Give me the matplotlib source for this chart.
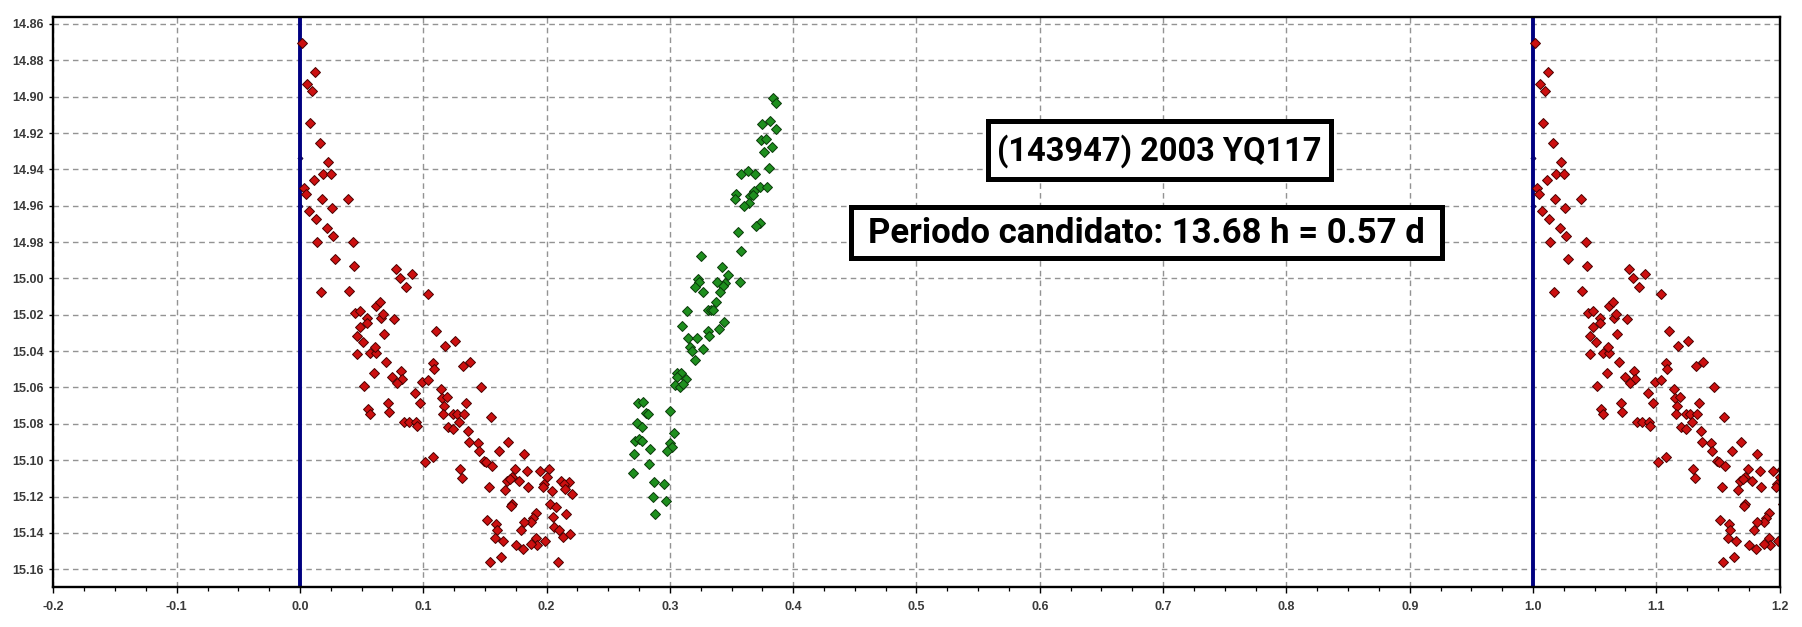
import numpy as np
import matplotlib
matplotlib.use("Agg")
import matplotlib.pyplot as plt
from matplotlib.patches import Rectangle
from matplotlib.ticker import MultipleLocator, FixedLocator, FixedFormatter

# ---------------- data ----------------
red_phase = [0.002, 0.012, 0.006, 0.010, 0.008, 0.016, 0.023, 0.019, 0.025, 0.011,
             0.003, 0.005, 0.018, 0.039, 0.026, 0.007, 0.013, 0.022, 0.027, 0.014,
             0.043, 0.028, 0.044, 0.017, 0.040, 0.078, 0.081, 0.091, 0.086, 0.104,
             0.045, 0.049, 0.054, 0.054, 0.049, 0.062, 0.065, 0.066, 0.067, 0.076,
             0.046, 0.051, 0.068, 0.110, 0.118, 0.046, 0.057, 0.062, 0.061, 0.070,
             0.108, 0.109, 0.060, 0.082, 0.075, 0.083, 0.079, 0.099, 0.104, 0.052,
             0.114, 0.093, 0.115, 0.119, 0.071, 0.097, 0.117, 0.055, 0.072, 0.057,
             0.116, 0.084, 0.088, 0.094, 0.095, 0.120, 0.101, 0.108, 0.126, 0.138,
             0.132, 0.147, 0.135, 0.124, 0.127, 0.133, 0.155, 0.129, 0.124, 0.136,
             0.137, 0.144, 0.145, 0.169, 0.161, 0.182, 0.149, 0.151, 0.156, 0.130,
             0.131, 0.174, 0.184, 0.195, 0.202, 0.172, 0.168, 0.170, 0.178, 0.200,
             0.198, 0.197, 0.212, 0.218, 0.214, 0.215, 0.221, 0.153, 0.166, 0.185,
             0.204, 0.172, 0.171, 0.203, 0.208, 0.191, 0.189, 0.187, 0.182, 0.205,
             0.216, 0.152, 0.159, 0.160, 0.179, 0.206, 0.210, 0.213, 0.219, 0.158,
             0.165, 0.191, 0.192, 0.187, 0.199, 0.175, 0.181, 0.163, 0.154, 0.209]
red_mag = [14.8706, 14.8864, 14.8932, 14.8969, 14.9146, 14.9256, 14.9360, 14.9427, 14.9427, 14.9457,
           14.9500, 14.9537, 14.9565, 14.9565, 14.9614, 14.9627, 14.9675, 14.9720, 14.9765, 14.9800,
           14.9800, 14.9895, 14.9930, 15.0075, 15.0067, 14.9950, 15.0000, 14.9977, 15.0047, 15.0087,
           15.0190, 15.0178, 15.0220, 15.0247, 15.0267, 15.0150, 15.0130, 15.0218, 15.0197, 15.0225,
           15.0317, 15.0350, 15.0307, 15.0288, 15.0370, 15.0417, 15.0412, 15.0412, 15.0378, 15.0460,
           15.0464, 15.0500, 15.0520, 15.0508, 15.0542, 15.0555, 15.0577, 15.0570, 15.0557, 15.0590,
           15.0610, 15.0632, 15.0660, 15.0650, 15.0687, 15.0687, 15.0700, 15.0720, 15.0733, 15.0748,
           15.0748, 15.0788, 15.0788, 15.0788, 15.0810, 15.0816, 15.1012, 15.0984, 15.0347, 15.0460,
           15.0480, 15.0595, 15.0687, 15.0746, 15.0746, 15.0746, 15.0760, 15.0789, 15.0830, 15.0839,
           15.0900, 15.0907, 15.0948, 15.0900, 15.0948, 15.0966, 15.1003, 15.1010, 15.1030, 15.1050,
           15.1100, 15.1050, 15.1058, 15.1058, 15.1050, 15.1094, 15.1113, 15.1105, 15.1113, 15.1094,
           15.1130, 15.1150, 15.1116, 15.1118, 15.1130, 15.1160, 15.1188, 15.1148, 15.1166, 15.1148,
           15.1168, 15.1243, 15.1252, 15.1243, 15.1258, 15.1289, 15.1320, 15.1340, 15.1340, 15.1313,
           15.1298, 15.1331, 15.1353, 15.1386, 15.1386, 15.1369, 15.1384, 15.1421, 15.1407, 15.1428,
           15.1443, 15.1426, 15.1465, 15.1463, 15.1443, 15.1468, 15.1490, 15.1531, 15.1560, 15.1560]

green_phase = [0.384, 0.386, 0.375, 0.381, 0.386, 0.374, 0.378, 0.376, 0.383, 0.380,
               0.358, 0.363, 0.369, 0.373, 0.379, 0.368, 0.365, 0.367, 0.354, 0.353,
               0.364, 0.360, 0.373, 0.370, 0.355, 0.358, 0.325, 0.342, 0.347, 0.345,
               0.343, 0.357, 0.323, 0.324, 0.338, 0.320, 0.327, 0.341, 0.337, 0.331,
               0.333, 0.335, 0.314, 0.310, 0.344, 0.340, 0.331, 0.332, 0.315, 0.322,
               0.327, 0.316, 0.318, 0.320, 0.306, 0.309, 0.306, 0.313, 0.304, 0.308,
               0.311, 0.274, 0.278, 0.281, 0.282, 0.300, 0.273, 0.277, 0.303, 0.272,
               0.275, 0.277, 0.300, 0.302, 0.298, 0.284, 0.271, 0.283, 0.270, 0.287,
               0.295, 0.286, 0.297, 0.288]
green_mag = [14.9005, 14.9036, 14.9152, 14.9132, 14.9176, 14.9240, 14.9234, 14.9303, 14.9277, 14.9392,
             14.9427, 14.9407, 14.9427, 14.9495, 14.9495, 14.9517, 14.9546, 14.9540, 14.9537, 14.9565,
             14.9587, 14.9600, 14.9693, 14.9710, 14.9744, 14.9847, 14.9875, 14.9937, 14.9983, 15.0027,
             15.0042, 15.0018, 15.0005, 15.0020, 15.0018, 15.0046, 15.0074, 15.0075, 15.0128, 15.0173,
             15.0173, 15.0172, 15.0178, 15.0260, 15.0240, 15.0280, 15.0288, 15.0317, 15.0330, 15.0330,
             15.0388, 15.0380, 15.0400, 15.0447, 15.0522, 15.0522, 15.0540, 15.0555, 15.0588, 15.0600,
             15.0581, 15.0687, 15.0680, 15.0739, 15.0746, 15.0728, 15.0794, 15.0817, 15.0849, 15.0896,
             15.0882, 15.0895, 15.0907, 15.0925, 15.0948, 15.0940, 15.0966, 15.1023, 15.1072, 15.1120,
             15.1133, 15.1200, 15.1222, 15.1296]

navy_phase = [0.0, 0.0]
navy_mag = [14.9336, 14.9600]

period_lines = [0.0, 1.0]

x_ticks = [-0.2, -0.1, 0.0, 0.1, 0.2, 0.3, 0.4, 0.5, 0.6, 0.7, 0.8, 0.9, 1.0, 1.1, 1.2]
x_labels = ["-0.2", "-0.1", "0.0", "0.1", "0.2", "0.3", "0.4", "0.5", "0.6", "0.7",
            "0.8", "0.9", "1.0", "1.1", "1.2"]
y_ticks = [14.86, 14.88, 14.90, 14.92, 14.94, 14.96, 14.98, 15.00, 15.02, 15.04,
           15.06, 15.08, 15.10, 15.12, 15.14, 15.16]
y_labels = ["%.2f" % v for v in y_ticks]

title1 = "(143947) 2003 YQ117"
title2 = "Periodo candidato: 13.68 h = 0.57 d"

# ---------------- figure ----------------
W, H = 1802, 627
fig = plt.figure(figsize=(W / 100, H / 100), dpi=100)
fig.patch.set_facecolor("white")

ax_l, ax_r, ax_t, ax_b = 53.4, 1779.6, 16.7, 587.4
ax = fig.add_axes([ax_l / W, 1 - ax_b / H, (ax_r - ax_l) / W, (ax_b - ax_t) / H])
ax.set_xlim(-0.2, 1.2)
ax.set_ylim(15.17, 14.856)

ax.xaxis.set_major_locator(FixedLocator(x_ticks))
ax.xaxis.set_major_formatter(FixedFormatter(x_labels))
ax.xaxis.set_minor_locator(MultipleLocator(0.025))
ax.yaxis.set_major_locator(FixedLocator(y_ticks))
ax.yaxis.set_major_formatter(FixedFormatter(y_labels))

for lab in ax.get_xticklabels() + ax.get_yticklabels():
    lab.set_fontfamily("Liberation Sans")
    lab.set_fontsize(9)
    lab.set_fontweight("bold")
    lab.set_color("#3a3a3a")

ax.tick_params(axis="x", which="major", direction="out", length=4, width=1.0, pad=5.5)
ax.tick_params(axis="x", which="minor", direction="out", length=3, width=0.9)
ax.tick_params(axis="y", which="major", direction="out", length=3, width=1.0, pad=3.9)

for s in ax.spines.values():
    s.set_linewidth(1.7)
    s.set_color("black")
    s.set_zorder(6)

ax.grid(True, which="major", linestyle=(0, (4, 3)), color="#939393", linewidth=1.0, zorder=0)
ax.set_axisbelow(True)

for xv in period_lines:
    ax.axvline(xv, color="#000080", linewidth=2.8, zorder=3)

rp = np.array(red_phase)
rm = np.array(red_mag)
gp = np.array(green_phase)
gm = np.array(green_mag)

for off in (0.0, 1.0):
    ax.plot(np.array(navy_phase) + off, navy_mag, linestyle="none", marker="D",
            markersize=2.6, markerfacecolor="#30104a", markeredgecolor="#1a0a40",
            markeredgewidth=0.6, zorder=2.5)
    ax.plot(rp + off, rm, linestyle="none", marker="D", markersize=4.6,
            markerfacecolor="#cc1010", markeredgecolor="#4a0000",
            markeredgewidth=0.7, zorder=4)
    ax.plot(gp + off, gm, linestyle="none", marker="D", markersize=4.6,
            markerfacecolor="#1e8f1e", markeredgecolor="#0a3a0a",
            markeredgewidth=0.7, zorder=4)

# ---------------- title boxes ----------------
boxes = [((985, 119, 1333, 181), title1, 23.5), ((848, 205, 1444, 261), title2, 25.0)]
for (x0, y0, x1, y1), txt, fs in boxes:
    bw = 5.0
    rect = Rectangle(((x0 + bw / 2) / W, 1 - (y1 - bw / 2) / H),
                     (x1 - x0 - bw) / W, (y1 - y0 - bw) / H,
                     transform=fig.transFigure, facecolor="white", edgecolor="black",
                     linewidth=bw * 72 / 100, zorder=10)
    fig.add_artist(rect)
    t = fig.text((x0 + x1) / 2 / W, 1 - ((y0 + y1) / 2 + 1) / H, txt,
                 ha="center", va="center", fontsize=fs, fontweight="bold",
                 family="Roboto", color="black")
    t.set_zorder(11)

fig.savefig("out.png", dpi=100, facecolor="white")
